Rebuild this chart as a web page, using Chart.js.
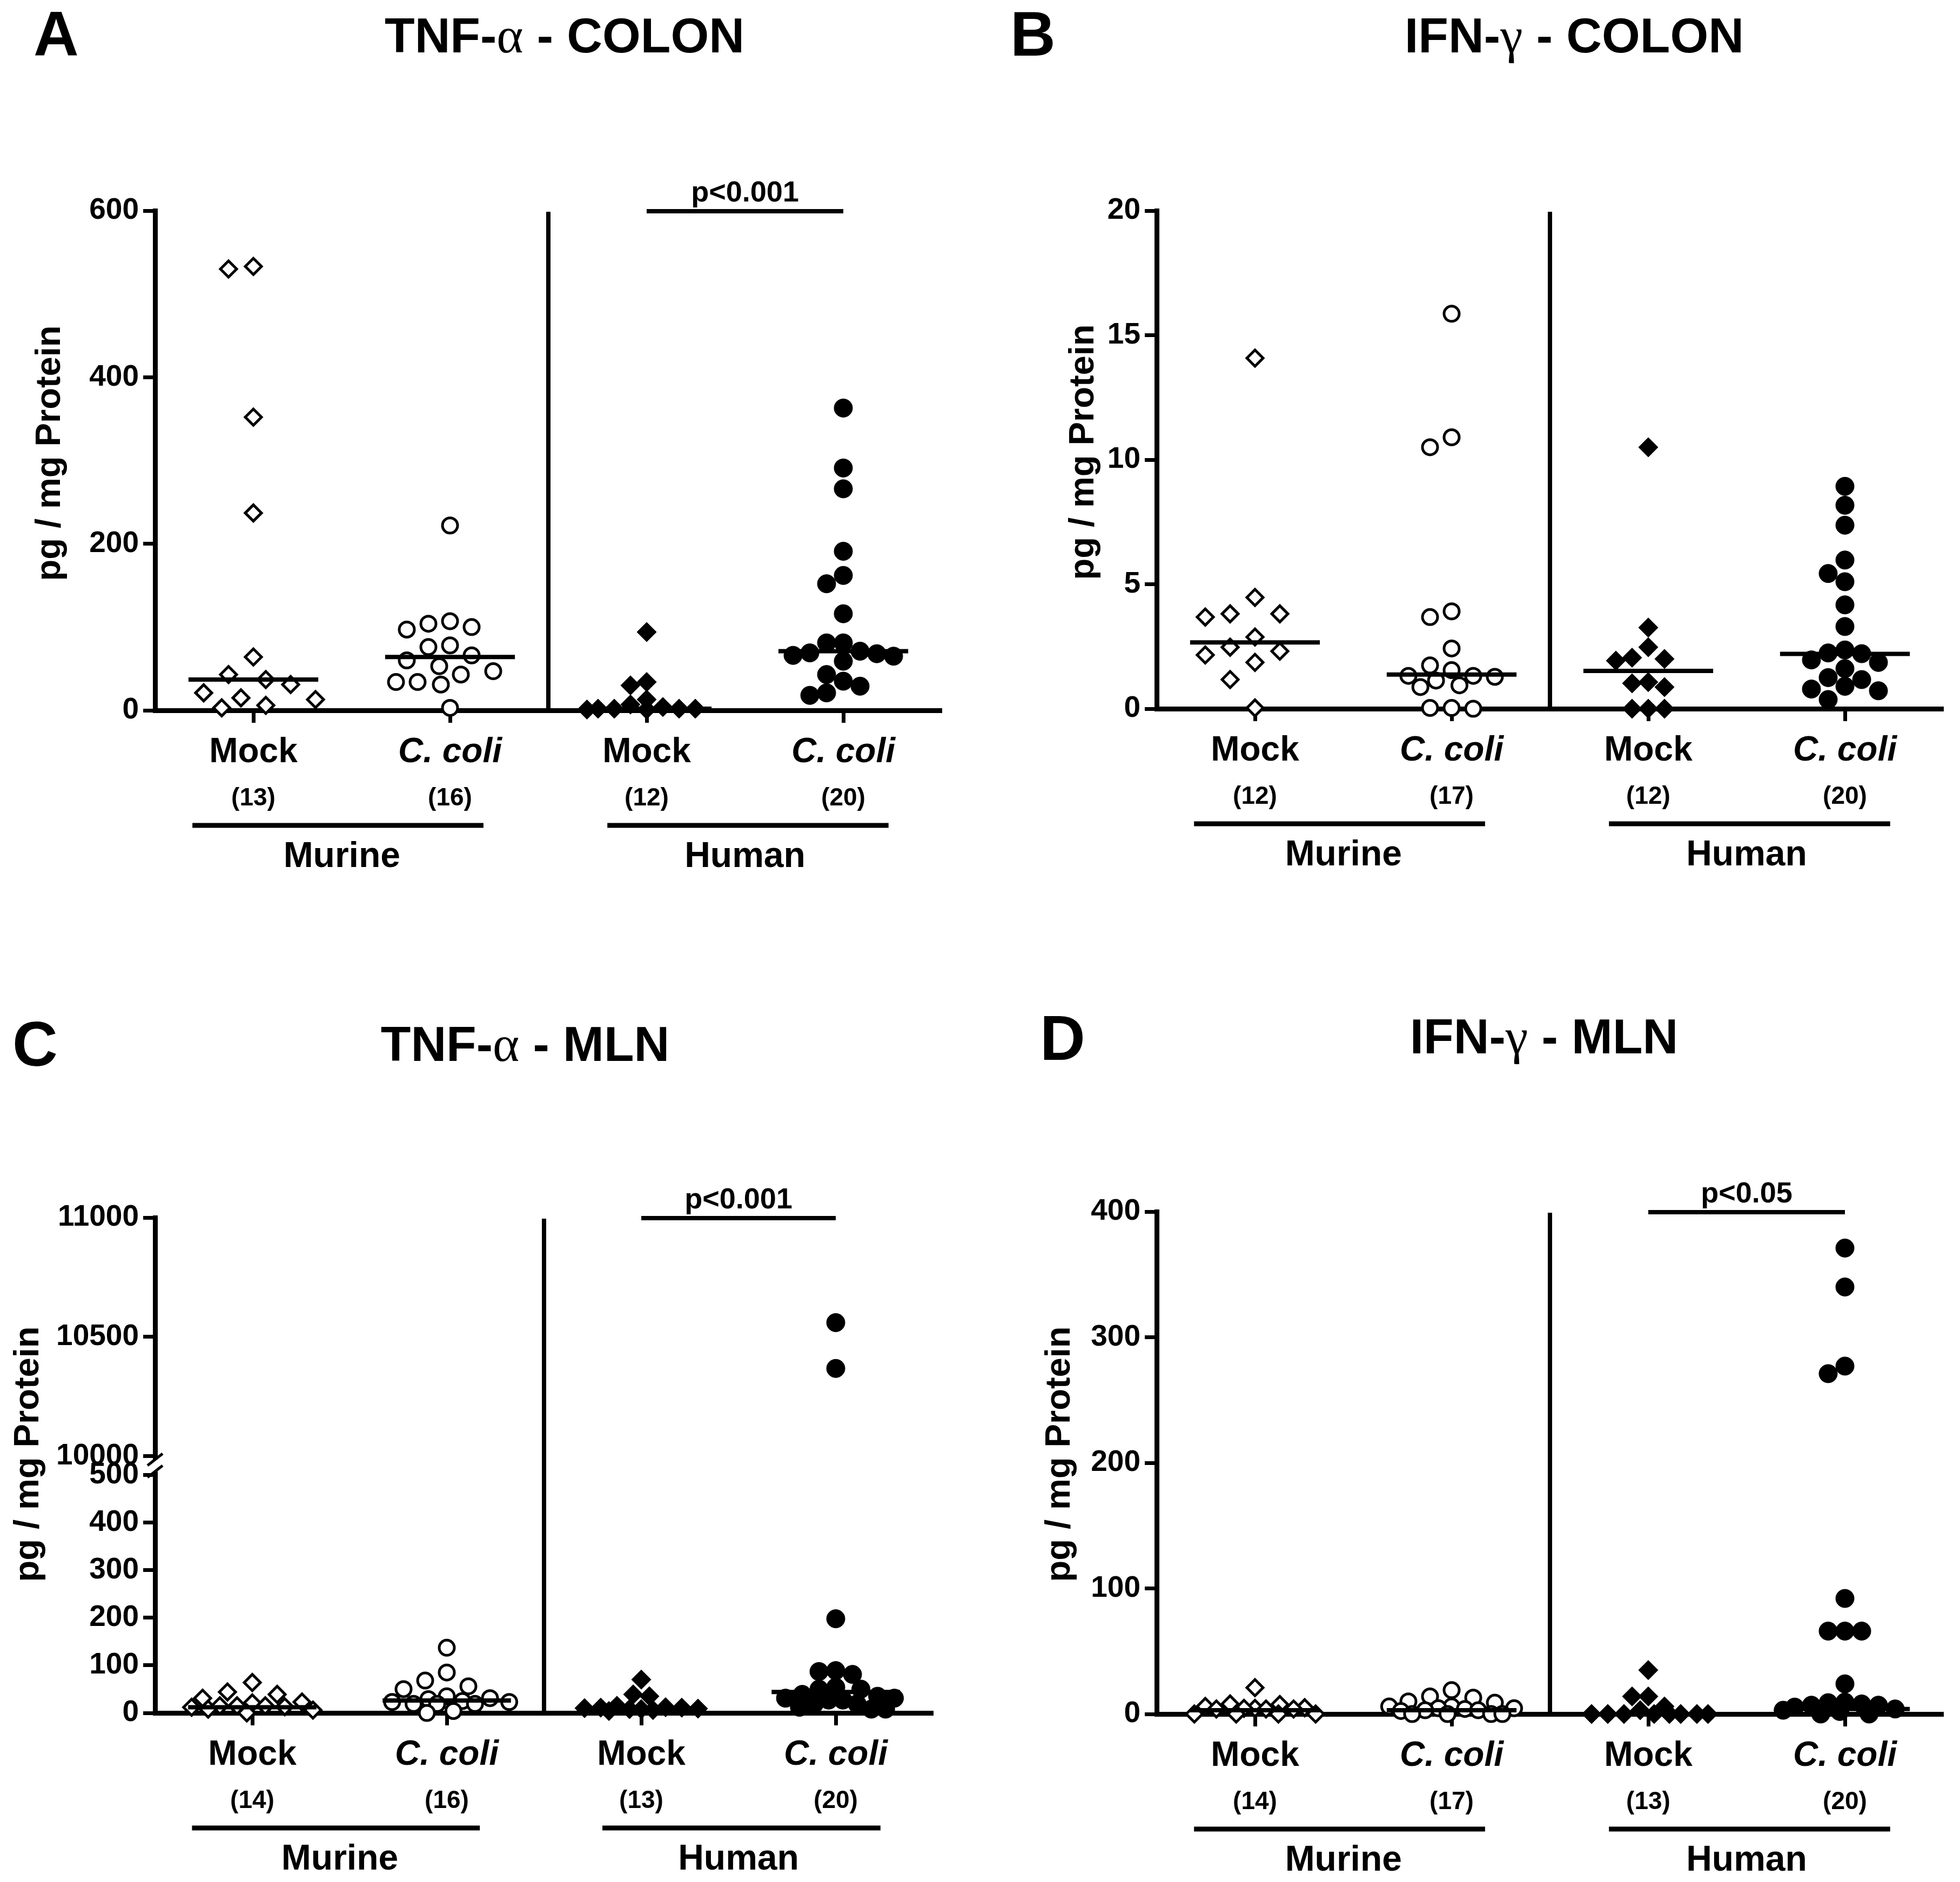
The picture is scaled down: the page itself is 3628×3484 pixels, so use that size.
<!DOCTYPE html>
<html>
<head>
<meta charset="utf-8">
<script src="https://cdn.jsdelivr.net/npm/chart.js@4.4.1/dist/chart.umd.min.js"></script>
<style>
  html, body { margin: 0; padding: 0; background: #fff; }
  #page { position: relative; width: 3628px; height: 3484px; background: #fff; overflow: hidden; }
  #page canvas { position: absolute; }
</style>
</head>
<body>
<div id="page">
  <canvas id="chartA"></canvas>
  <canvas id="chartB"></canvas>
  <canvas id="chartC"></canvas>
  <canvas id="chartD"></canvas>
</div>
<script>
// ---- data ----
const categories = ['Mock', 'C. coli', 'Mock', 'C. coli'];
const groups = ['Murine', 'Human'];

// A: TNF-alpha, colon
const tnfColonMurineMock = [533, 530, 352, 237, 64, 43, 37, 31, 21, 15, 13, 6, 3];
const tnfColonMurineColi = [222, 107, 104, 100, 97, 78, 76, 66, 60, 53, 47, 43, 34, 34, 31, 3];
const tnfColonHumanMock = [94, 34, 30, 13, 7, 4, 2, 2, 2, 2, 1, 1];
const tnfColonHumanColi = [363, 291, 266, 191, 162, 152, 116, 81, 81, 71, 69, 68, 66, 65, 59, 43, 35, 29, 21, 18];
const tnfColonMedians = [37, 64, 2, 71];
const tnfColonN = ['(13)', '(16)', '(12)', '(20)'];
const tnfColonTicks = [0, 200, 400, 600];

// B: IFN-gamma, colon
const ifnColonMurineMock = [14.08, 4.47, 3.81, 3.81, 3.68, 2.88, 2.47, 2.31, 2.16, 1.86, 1.17, 0.03];
const ifnColonMurineColi = [15.86, 10.9, 10.5, 3.91, 3.68, 2.42, 1.74, 1.55, 1.32, 1.32, 1.28, 1.13, 0.94, 0.87, 0.03, 0, 0.03];
const ifnColonHumanMock = [10.5, 3.26, 2.47, 2.05, 2.0, 1.93, 1.07, 1.02, 0.87, 0, 0, 0];
const ifnColonHumanColi = [8.93, 8.17, 7.37, 5.97, 5.43, 5.10, 4.17, 3.30, 2.36, 2.24, 2.21, 1.96, 1.86, 1.61, 1.25, 1.17, 0.90, 0.79, 0.72, 0.37];
const ifnColonMedians = [2.66, 1.37, 1.52, 2.2];
const ifnColonN = ['(12)', '(17)', '(12)', '(20)'];
const ifnColonTicks = [0, 5, 10, 15, 20];

// C: TNF-alpha, MLN (broken axis)
const tnfMlnMurineMock = [64, 44, 39, 31, 23, 21, 15, 15, 15, 13, 12, 8, 6, 0];
const tnfMlnMurineColi = [137, 85, 68, 56, 50, 35, 31, 29, 25, 23, 23, 19, 19, 19, 4, 0];
const tnfMlnHumanMock = [70, 39, 35, 15, 12, 11, 11, 10, 9, 8, 8, 6, 4];
const tnfMlnHumanColi = [10560, 10368, 198, 89, 87, 81, 54, 50, 50, 39, 35, 31, 31, 27, 27, 19, 19, 12, 8, 8];
const tnfMlnMedians = [12, 26, 8, 44];
const tnfMlnN = ['(14)', '(16)', '(13)', '(20)'];
const tnfMlnLowerTicks = [0, 100, 200, 300, 400, 500];
const tnfMlnUpperTicks = [10000, 10500, 11000];

// D: IFN-gamma, MLN
const ifnMlnMurineMock = [21, 8, 7.5, 6, 5, 4.5, 4.5, 4, 4, 4, 0, 0, 0, 0];
const ifnMlnMurineColi = [19, 14, 13, 10, 9, 6, 6, 4.6, 4.6, 4, 3, 3, 2.4, 0, 0, 0, 0];
const ifnMlnHumanMock = [35, 14, 14, 6, 3, 0, 0, 0, 0, 0, 0, 0, 0];
const ifnMlnHumanColi = [371, 340, 277, 271, 92, 66, 66, 66, 24, 9.5, 9, 8, 7, 7, 5.5, 4, 3, 2, 0, 0];
const ifnMlnMedians = [3, 3, 0, 4];
const ifnMlnN = ['(14)', '(17)', '(13)', '(20)'];
const ifnMlnTicks = [0, 100, 200, 300, 400];

// ---- styling ----
const FONT = '"Liberation Sans", Arial, Helvetica, sans-serif';
const AXIS_W = 9;
const SWARM_MAX = 118; // widest sideways spread of a column, px

// open diamond, open circle, filled diamond, filled circle
const markerStyles = [
  { pointStyle: 'rectRot', pointRadius: 15, pointBackgroundColor: '#fff', pointBorderWidth: 5, swarm: 46 },
  { pointStyle: 'circle', pointRadius: 14, pointBackgroundColor: '#fff', pointBorderWidth: 5, swarm: 40 },
  { pointStyle: 'rectRot', pointRadius: 18, pointBackgroundColor: '#000', pointBorderWidth: 1, swarm: 30 },
  { pointStyle: 'circle', pointRadius: 17, pointBackgroundColor: '#000', pointBorderWidth: 1, swarm: 31 }
];

const panels = [
  {
    id: 'chartA', box: { x: 54, y: 0, w: 1760, h: 1740 }, area: { left: 287, top: 390, right: 1743, bottom: 1315 },
    letter: 'A', letterPos: [62, 103], title: ['TNF-', 'α', ' - COLON'], titlePos: [1045, 97], yTitlePos: [93, 839],
    series: [tnfColonMurineMock, tnfColonMurineColi, tnfColonHumanMock, tnfColonHumanColi],
    medians: tnfColonMedians, nLabels: tnfColonN, ticks: tnfColonTicks, pText: 'p<0.001'
  },
  {
    id: 'chartB', box: { x: 1814, y: 0, w: 1814, h: 1740 }, area: { left: 2141, top: 390, right: 3597, bottom: 1312 },
    letter: 'B', letterPos: [1870, 103], title: ['IFN-', 'γ', ' - COLON'], titlePos: [2914, 97], yTitlePos: [2006, 837],
    series: [ifnColonMurineMock, ifnColonMurineColi, ifnColonHumanMock, ifnColonHumanColi],
    medians: ifnColonMedians, nLabels: ifnColonN, ticks: ifnColonTicks, pText: null
  },
  {
    id: 'chartC', box: { x: 14, y: 1740, w: 1800, h: 1744 }, area: { left: 287, top: 2254, right: 1727, bottom: 3171 },
    letter: 'C', letterPos: [23, 1973], title: ['TNF-', 'α', ' - MLN'], titlePos: [972, 1964], yTitlePos: [53, 2692],
    series: [tnfMlnMurineMock, tnfMlnMurineColi, tnfMlnHumanMock, tnfMlnHumanColi],
    medians: tnfMlnMedians, nLabels: tnfMlnN, ticks: tnfMlnLowerTicks, pText: 'p<0.001',
    broken: { lowerMax: 519, upperMin: 9959, upperMax: 11000, upperTicks: tnfMlnUpperTicks, lowerWeight: 457, upperWeight: 460 }
  },
  {
    id: 'chartD', box: { x: 1814, y: 1740, w: 1814, h: 1744 }, area: { left: 2141, top: 2243, right: 3597, bottom: 3173 },
    letter: 'D', letterPos: [1925, 1962], title: ['IFN-', 'γ', ' - MLN'], titlePos: [2858, 1950], yTitlePos: [1962, 2692],
    series: [ifnMlnMurineMock, ifnMlnMurineColi, ifnMlnHumanMock, ifnMlnHumanColi],
    medians: ifnMlnMedians, nLabels: ifnMlnN, ticks: ifnMlnTicks, pText: 'p<0.05'
  }
];

const X_AXIS_H = 130;

// beeswarm: pixel offsets that keep markers apart, squeezed where a column gets crowded
function swarm(values, toPix, pxPerUnit, d) {
  const order = values.map((v, i) => i).sort((a, b) => values[b] - values[a]);
  const placed = [];
  const out = new Array(values.length).fill(0);
  order.forEach(i => {
    const y = toPix(values[i]);
    let gap = d;
    let found = null;
    while (found === null) {
      for (let k = 0; k < 80; k++) {
        const off = (k % 2 ? -1 : 1) * Math.ceil(k / 2) * gap / 2;
        if (Math.abs(off) > SWARM_MAX) break;
        if (placed.every(p => (p.x - off) ** 2 + (p.y - y) ** 2 >= gap * gap * 0.97)) { found = off; break; }
      }
      gap *= 0.85;
      if (gap < 4) found = 0;
    }
    placed.push({ x: found, y: y });
    out[i] = found / pxPerUnit;
  });
  return out;
}

function drawTitleParts(ctx, parts, cx, baseline) {
  const fonts = parts.map((t, i) => i === 1 ? 'normal 94px "Liberation Serif", serif' : 'bold 91px ' + FONT);
  let total = 0;
  parts.forEach((t, i) => { ctx.font = fonts[i]; total += ctx.measureText(t).width; });
  let x = cx - total / 2;
  ctx.textAlign = 'left';
  ctx.textBaseline = 'alphabetic';
  parts.forEach((t, i) => {
    ctx.font = fonts[i];
    ctx.fillText(t, x, baseline);
    x += ctx.measureText(t).width;
  });
}

const decorPlugin = {
  id: 'decor',
  afterDraw(chart) {
    const p = chart.config.options.plugins.decor.panel;
    const ctx = chart.ctx;
    const xs = chart.scales.x;
    const area = chart.chartArea;
    ctx.save();
    ctx.fillStyle = '#000';
    ctx.strokeStyle = '#000';

    // separator between murine and human
    ctx.lineWidth = 8;
    ctx.beginPath();
    ctx.moveTo(xs.getPixelForValue(1.5), area.top + 2);
    ctx.lineTo(xs.getPixelForValue(1.5), area.bottom);
    ctx.stroke();

    // axis break
    if (p.broken) {
      const yTop = chart.scales.yTop;
      const ax = area.left;
      const y1 = yTop.bottom - 12;
      const y2 = yTop.bottom + 10;
      ctx.fillStyle = '#fff';
      ctx.fillRect(ax - 8, y1, 16, y2 - y1);
      ctx.fillStyle = '#000';
      ctx.lineWidth = 5;
      [y1, y2].forEach(yy => {
        ctx.beginPath();
        ctx.moveTo(ax - 14, yy + 11);
        ctx.lineTo(ax + 14, yy - 11);
        ctx.stroke();
      });
    }

    // significance bar
    if (p.pText) {
      const x0 = xs.getPixelForValue(2), x1 = xs.getPixelForValue(3);
      ctx.lineWidth = 8;
      ctx.beginPath();
      ctx.moveTo(x0, area.top + 1);
      ctx.lineTo(x1, area.top + 1);
      ctx.stroke();
      ctx.font = 'bold 54px ' + FONT;
      ctx.textAlign = 'center';
      ctx.textBaseline = 'alphabetic';
      ctx.fillText(p.pText, (x0 + x1) / 2, area.top - 17);
    }

    // n per group, group underlines and names
    const base = area.bottom;
    ctx.font = 'bold 46px ' + FONT;
    ctx.textAlign = 'center';
    ctx.textBaseline = 'middle';
    p.nLabels.forEach((t, i) => ctx.fillText(t, xs.getPixelForValue(i), base + 163));
    ctx.lineWidth = 9;
    [[-0.31, 1.17], [1.80, 3.23]].forEach(r => {
      ctx.beginPath();
      ctx.moveTo(xs.getPixelForValue(r[0]), base + 213);
      ctx.lineTo(xs.getPixelForValue(r[1]), base + 213);
      ctx.stroke();
    });
    ctx.font = 'bold 66px ' + FONT;
    [0.45, 2.5].forEach((v, i) => ctx.fillText(groups[i], xs.getPixelForValue(v), base + 272));

    // panel letter, title, y title (page coordinates)
    ctx.translate(-p.box.x, -p.box.y);
    ctx.textAlign = 'left';
    ctx.textBaseline = 'alphabetic';
    ctx.font = 'bold 116px ' + FONT;
    ctx.fillText(p.letter, p.letterPos[0], p.letterPos[1]);
    drawTitleParts(ctx, p.title, p.titlePos[0], p.titlePos[1]);
    ctx.save();
    ctx.translate(p.yTitlePos[0], p.yTitlePos[1]);
    ctx.rotate(-Math.PI / 2);
    ctx.font = 'bold 65px ' + FONT;
    ctx.textAlign = 'center';
    ctx.textBaseline = 'middle';
    ctx.fillText('pg / mg Protein', 0, 0);
    ctx.restore();
    ctx.restore();
  }
};

function yScale(p, opts) {
  return Object.assign({
    type: 'linear',
    position: 'left',
    afterFit: s => { s.width = p.area.left - p.box.x; },
    grid: { display: true, drawOnChartArea: false, drawTicks: true, tickLength: 22, tickWidth: 7, tickColor: '#000' },
    border: { display: true, color: '#000', width: AXIS_W },
    ticks: {
      color: '#000', padding: 8, autoSkip: false,
      callback: v => String(v),
      font: { family: FONT, size: 55, weight: 'bold' }
    }
  }, opts);
}

function buildPanel(p) {
  const canvas = document.getElementById(p.id);
  canvas.width = p.box.w;
  canvas.height = p.box.h;
  canvas.style.left = p.box.x + 'px';
  canvas.style.top = p.box.y + 'px';

  const datasets = [];
  p.series.forEach((vals, i) => {
    const m = markerStyles[i];
    const split = p.broken ? [vals.filter(v => v < p.broken.upperMin), vals.filter(v => v >= p.broken.upperMin)] : [vals, []];
    split.forEach((part, k) => {
      if (!part.length) return;
      datasets.push(Object.assign({
        data: part.map(v => ({ x: i, y: v })),
        yAxisID: k === 0 ? 'y' : 'yTop',
        pointBorderColor: '#000',
        showLine: false,
        clip: false,
        order: 1
      }, m));
    });
  });
  p.medians.forEach((med, i) => {
    datasets.push({
      data: [{ x: i - 0.33, y: med }, { x: i + 0.33, y: med }],
      yAxisID: 'y',
      showLine: true,
      borderColor: '#000',
      borderWidth: 8,
      pointRadius: 0,
      clip: false,
      order: 0
    });
  });

  const scales = {
    x: {
      type: 'linear',
      min: -0.5,
      max: 3.5,
      afterBuildTicks: s => { s.ticks = categories.map((c, i) => ({ value: i })); },
      afterFit: s => { s.height = X_AXIS_H; },
      grid: { display: true, drawOnChartArea: false, drawTicks: true, tickLength: 23, tickWidth: 7, tickColor: '#000' },
      border: { display: true, color: '#000', width: AXIS_W },
      ticks: {
        color: '#000',
        padding: 17,
        maxRotation: 0,
        autoSkip: false,
        callback: v => categories[v],
        font: c => ({ family: FONT, size: 64, weight: 'bold', style: c.index % 2 ? 'italic' : 'normal' })
      }
    }
  };
  if (p.broken) {
    scales.y = yScale(p, {
      min: 0, max: p.broken.lowerMax, stack: 'tnf', stackWeight: p.broken.lowerWeight,
      afterBuildTicks: s => { s.ticks = p.ticks.map(v => ({ value: v })); }
    });
    scales.yTop = yScale(p, {
      min: p.broken.upperMin, max: p.broken.upperMax, stack: 'tnf', stackWeight: p.broken.upperWeight,
      afterBuildTicks: s => { s.ticks = p.broken.upperTicks.map(v => ({ value: v })); }
    });
  } else {
    scales.y = yScale(p, {
      min: p.ticks[0], max: p.ticks[p.ticks.length - 1],
      afterBuildTicks: s => { s.ticks = p.ticks.map(v => ({ value: v })); }
    });
  }

  const chart = new Chart(canvas, {
    type: 'scatter',
    data: { datasets: datasets },
    options: {
      responsive: false,
      animation: false,
      devicePixelRatio: 1,
      events: [],
      layout: {
        padding: {
          left: 0,
          top: p.area.top - p.box.y,
          right: p.box.x + p.box.w - p.area.right,
          bottom: p.box.y + p.box.h - p.area.bottom - X_AXIS_H
        }
      },
      scales: scales,
      plugins: { legend: { display: false }, tooltip: { enabled: false }, decor: { panel: p } }
    },
    plugins: [decorPlugin]
  });

  // spread the points of each column sideways
  const xs = chart.scales.x;
  const ppu = xs.getPixelForValue(1) - xs.getPixelForValue(0);
  chart.data.datasets.forEach(ds => {
    if (!ds.swarm) return;
    const ys = chart.scales[ds.yAxisID];
    const offs = swarm(ds.data.map(pt => pt.y), v => ys.getPixelForValue(v), ppu, ds.swarm);
    ds.data.forEach((pt, j) => { pt.x += offs[j]; });
  });
  chart.update('none');
}

panels.forEach(buildPanel);
</script>
</body>
</html>
